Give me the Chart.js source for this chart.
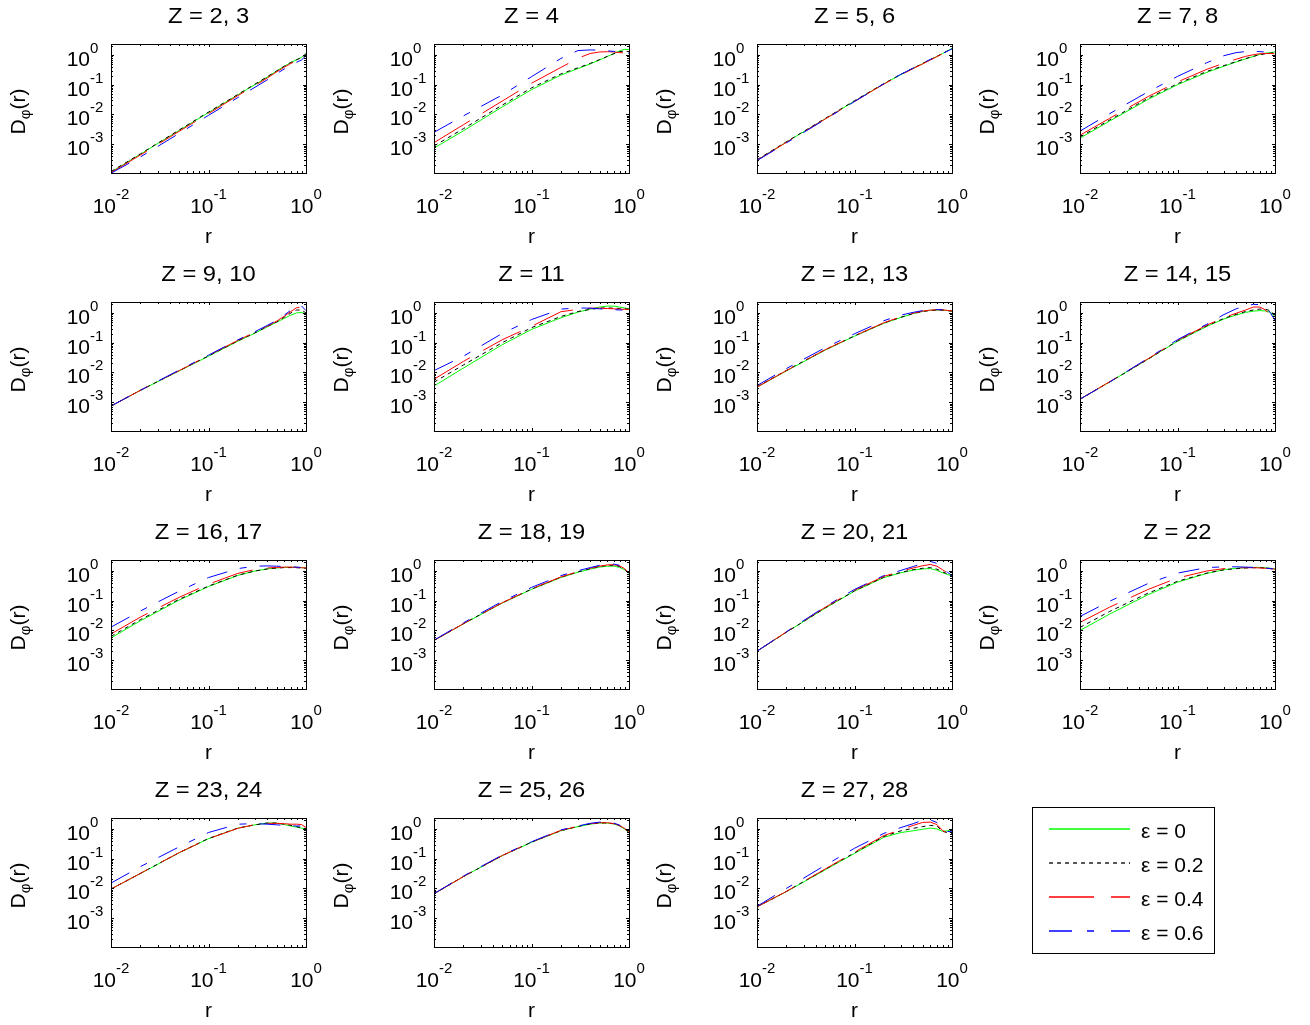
<!DOCTYPE html>
<html>
<head>
<meta charset="utf-8">
<script src="https://cdn.jsdelivr.net/npm/chart.js@4.4.1/dist/chart.umd.min.js"></script>
<style>
html, body { margin: 0; padding: 0; background: #fff; overflow: hidden; }
body { width: 1310px; height: 1025px; position: relative; font-family: "Liberation Sans", Arial, sans-serif; }
#plots canvas { position: absolute; }
#legend { position: absolute; left: 1032px; top: 807px; width: 183px; height: 147px; box-sizing: border-box; border: 1px solid #000; background: #fff; }
#legend canvas { position: absolute; left: 0; top: 0; }
#legend span { position: absolute; left: 108px; font-size: 21px; line-height: 21px; white-space: nowrap; color: #000; }
</style>
</head>
<body>
<div id="plots"></div>
<div id="legend">
  <canvas id="legendLines" width="181" height="145"></canvas>
  <span style="top:12px">ε = 0</span>
  <span style="top:46px">ε = 0.2</span>
  <span style="top:80px">ε = 0.4</span>
  <span style="top:114px">ε = 0.6</span>
</div>
<script>
// r grid shared by all panels
var rValues = [0.01, 0.02, 0.05, 0.1, 0.2, 0.3, 0.4, 0.5, 0.6, 0.7, 0.8, 0.9, 1.0];

var titles = ["Z = 2, 3", "Z = 4", "Z = 5, 6", "Z = 7, 8",
              "Z = 9, 10", "Z = 11", "Z = 12, 13", "Z = 14, 15",
              "Z = 16, 17", "Z = 18, 19", "Z = 20, 21", "Z = 22",
              "Z = 23, 24", "Z = 25, 26", "Z = 27, 28"];

// D_phi(r), one row per panel
var eps0 = [
  [1.15e-4, 4.6e-4, 2.9e-3, 0.0115, 0.046, 0.10, 0.18, 0.29, 0.42, 0.56, 0.69, 0.83, 1.12],
  [7.4e-4, 2.8e-3, 0.0178, 0.068, 0.21, 0.35, 0.5, 0.68, 0.89, 1.12, 1.38, 1.55, 1.51],
  [2.9e-4, 1.17e-3, 7.1e-3, 0.028, 0.107, 0.22, 0.355, 0.51, 0.69, 0.89, 1.12, 1.38, 1.66],
  [1.6e-3, 5.9e-3, 0.032, 0.1, 0.26, 0.42, 0.58, 0.74, 0.89, 1.05, 1.15, 1.2, 1.26],
  [7.4e-4, 2.5e-3, 0.0112, 0.035, 0.112, 0.21, 0.34, 0.49, 0.66, 0.85, 1.0, 1.05, 0.93],
  [3.5e-3, 0.014, 0.085, 0.28, 0.69, 1.07, 1.35, 1.58, 1.7, 1.7, 1.58, 1.48, 1.38],
  [3.2e-3, 0.0112, 0.056, 0.166, 0.45, 0.71, 0.95, 1.12, 1.23, 1.26, 1.26, 1.2, 1.15],
  [1.26e-3, 4.7e-3, 0.028, 0.112, 0.355, 0.63, 0.85, 1.05, 1.15, 1.2, 1.17, 1.05, 0.76],
  [5.6e-3, 0.021, 0.105, 0.3, 0.71, 1.0, 1.17, 1.26, 1.32, 1.32, 1.32, 1.29, 1.26],
  [4.6e-3, 0.0166, 0.083, 0.24, 0.6, 0.91, 1.15, 1.35, 1.45, 1.45, 1.32, 1.1, 0.83],
  [2.0e-3, 8.7e-3, 0.056, 0.21, 0.6, 0.87, 1.07, 1.17, 1.2, 1.05, 0.87, 0.76, 0.68],
  [0.01, 0.035, 0.16, 0.42, 0.83, 1.1, 1.23, 1.29, 1.32, 1.32, 1.29, 1.23, 1.17],
  [9.5e-3, 0.0316, 0.158, 0.47, 1.07, 1.38, 1.58, 1.58, 1.41, 1.26, 1.15, 1.07, 1.0],
  [6.6e-3, 0.025, 0.126, 0.355, 0.87, 1.2, 1.45, 1.58, 1.58, 1.48, 1.26, 1.0, 0.76],
  [2.4e-3, 7.8e-3, 0.042, 0.15, 0.525, 0.76, 0.87, 0.98, 1.07, 1.0, 0.83, 0.87, 0.95]
];
var eps02 = [
  [1.2e-4, 4.7e-4, 3.0e-3, 0.012, 0.047, 0.105, 0.185, 0.29, 0.42, 0.56, 0.69, 0.82, 1.1],
  [8.7e-4, 3.3e-3, 0.0205, 0.078, 0.23, 0.37, 0.52, 0.7, 0.9, 1.1, 1.3, 1.35, 1.3],
  [3.0e-4, 1.2e-3, 7.3e-3, 0.029, 0.109, 0.225, 0.36, 0.52, 0.7, 0.9, 1.12, 1.38, 1.64],
  [1.74e-3, 6.4e-3, 0.035, 0.108, 0.28, 0.44, 0.6, 0.76, 0.9, 1.02, 1.1, 1.15, 1.2],
  [7.4e-4, 2.5e-3, 0.0115, 0.036, 0.115, 0.215, 0.35, 0.5, 0.72, 1.0, 1.26, 1.26, 1.0],
  [4.7e-3, 0.0178, 0.1, 0.32, 0.76, 1.12, 1.32, 1.45, 1.48, 1.45, 1.41, 1.38, 1.35],
  [3.3e-3, 0.0117, 0.058, 0.17, 0.46, 0.72, 0.96, 1.12, 1.22, 1.25, 1.25, 1.2, 1.15],
  [1.26e-3, 4.7e-3, 0.028, 0.115, 0.37, 0.66, 0.9, 1.12, 1.26, 1.35, 1.32, 1.2, 0.85],
  [6.3e-3, 0.023, 0.112, 0.31, 0.72, 1.0, 1.17, 1.26, 1.3, 1.3, 1.29, 1.26, 1.23],
  [4.6e-3, 0.0168, 0.085, 0.245, 0.62, 0.93, 1.2, 1.41, 1.55, 1.55, 1.41, 1.15, 0.85],
  [2.0e-3, 8.7e-3, 0.057, 0.215, 0.62, 0.9, 1.1, 1.23, 1.3, 1.15, 0.93, 0.8, 0.68],
  [0.0126, 0.043, 0.18, 0.45, 0.85, 1.1, 1.2, 1.26, 1.29, 1.29, 1.26, 1.2, 1.15],
  [9.5e-3, 0.032, 0.16, 0.48, 1.07, 1.38, 1.58, 1.58, 1.45, 1.32, 1.2, 1.1, 1.02],
  [6.6e-3, 0.025, 0.126, 0.36, 0.88, 1.22, 1.48, 1.6, 1.6, 1.5, 1.29, 1.02, 0.78],
  [2.4e-3, 7.9e-3, 0.044, 0.158, 0.56, 0.87, 1.05, 1.2, 1.32, 1.26, 0.83, 0.76, 0.71]
];
var eps04 = [
  [1.1e-4, 4.3e-4, 2.7e-3, 0.0107, 0.043, 0.094, 0.167, 0.27, 0.39, 0.52, 0.64, 0.77, 1.0],
  [1.12e-3, 4.5e-3, 0.028, 0.112, 0.38, 0.78, 1.12, 1.26, 1.29, 1.26, 1.2, 1.17, 1.15],
  [2.85e-4, 1.15e-3, 7.0e-3, 0.0275, 0.105, 0.215, 0.35, 0.5, 0.68, 0.88, 1.1, 1.35, 1.6],
  [2.0e-3, 7.3e-3, 0.04, 0.124, 0.33, 0.53, 0.72, 0.9, 1.02, 1.1, 1.12, 1.12, 1.1],
  [7.4e-4, 2.5e-3, 0.0115, 0.037, 0.12, 0.225, 0.36, 0.53, 0.78, 1.12, 1.5, 1.55, 1.1],
  [5.9e-3, 0.0234, 0.125, 0.355, 1.1, 1.32, 1.45, 1.45, 1.41, 1.38, 1.35, 1.32, 1.32],
  [3.2e-3, 0.0115, 0.058, 0.17, 0.47, 0.75, 0.98, 1.15, 1.25, 1.28, 1.27, 1.22, 1.17],
  [1.26e-3, 4.8e-3, 0.029, 0.12, 0.39, 0.7, 0.98, 1.26, 1.58, 1.58, 1.26, 0.8, 0.5],
  [7.6e-3, 0.028, 0.13, 0.36, 0.83, 1.12, 1.26, 1.32, 1.35, 1.35, 1.32, 1.29, 1.26],
  [4.6e-3, 0.0168, 0.085, 0.25, 0.63, 0.95, 1.23, 1.45, 1.6, 1.62, 1.48, 1.2, 0.85],
  [2.0e-3, 8.9e-3, 0.06, 0.225, 0.66, 0.98, 1.26, 1.5, 1.66, 1.45, 1.1, 0.85, 0.68],
  [0.0186, 0.06, 0.24, 0.58, 1.0, 1.2, 1.26, 1.29, 1.29, 1.26, 1.23, 1.2, 1.15],
  [9.5e-3, 0.032, 0.16, 0.47, 1.05, 1.41, 1.55, 1.55, 1.5, 1.45, 1.45, 1.41, 1.12],
  [6.6e-3, 0.025, 0.128, 0.36, 0.9, 1.23, 1.5, 1.62, 1.62, 1.52, 1.3, 1.05, 0.8],
  [2.4e-3, 7.9e-3, 0.045, 0.166, 0.6, 0.95, 1.32, 1.66, 1.7, 1.41, 0.89, 0.72, 0.63]
];
var eps06 = [
  [1.05e-4, 3.7e-4, 2.3e-3, 0.0093, 0.037, 0.082, 0.145, 0.235, 0.34, 0.46, 0.57, 0.68, 0.95],
  [2.5e-3, 8.9e-3, 0.045, 0.186, 0.76, 1.41, 1.48, 1.45, 1.38, 1.32, 1.23, 1.17, 1.15],
  [2.8e-4, 1.1e-3, 6.8e-3, 0.027, 0.108, 0.225, 0.365, 0.53, 0.71, 0.9, 1.12, 1.35, 1.6],
  [2.75e-3, 0.0105, 0.058, 0.19, 0.55, 0.95, 1.2, 1.3, 1.32, 1.3, 1.25, 1.2, 1.18],
  [7.4e-4, 2.5e-3, 0.012, 0.038, 0.125, 0.235, 0.38, 0.56, 0.85, 1.25, 1.7, 1.72, 1.2],
  [0.0115, 0.035, 0.204, 0.6, 1.35, 1.48, 1.45, 1.38, 1.32, 1.29, 1.26, 1.26, 1.26],
  [3.6e-3, 0.0135, 0.068, 0.2, 0.55, 0.85, 1.05, 1.2, 1.28, 1.3, 1.28, 1.22, 1.17],
  [1.26e-3, 4.7e-3, 0.03, 0.126, 0.42, 0.89, 1.38, 1.74, 1.95, 1.9, 1.58, 1.0, 0.56],
  [0.0129, 0.045, 0.21, 0.6, 1.2, 1.45, 1.48, 1.45, 1.41, 1.38, 1.35, 1.32, 1.26],
  [4.7e-3, 0.018, 0.095, 0.28, 0.7, 1.02, 1.3, 1.55, 1.7, 1.7, 1.55, 1.23, 0.87],
  [2.0e-3, 9.0e-3, 0.063, 0.24, 0.7, 1.05, 1.41, 1.8, 2.1, 1.8, 1.26, 0.9, 0.7],
  [0.0295, 0.095, 0.38, 0.85, 1.3, 1.38, 1.38, 1.35, 1.32, 1.29, 1.26, 1.2, 1.15],
  [0.0151, 0.054, 0.25, 0.76, 1.45, 1.51, 1.45, 1.38, 1.32, 1.29, 1.26, 1.26, 1.26],
  [6.7e-3, 0.026, 0.132, 0.37, 0.93, 1.26, 1.55, 1.7, 1.7, 1.58, 1.35, 1.07, 0.8],
  [2.5e-3, 0.01, 0.06, 0.224, 0.71, 1.12, 1.51, 1.95, 2.0, 1.66, 1.0, 0.83, 0.8]
];

var xTicks = [0.01, 0.1, 1];
var xTickExp = ["-2", "-1", "0"];
var yTicks = [1, 0.1, 0.01, 0.001];
var yTickExp = ["0", "-1", "-2", "-3"];

var seriesNames = ["ε = 0", "ε = 0.2", "ε = 0.4", "ε = 0.6"];
var seriesColors = ["#00ff00", "#000000", "#ff0000", "#0000ff"];
var seriesDash = [[], [4, 4], [42, 15], [21, 13, 7, 13]];

var yMin = 1.07e-4, yMax = 2.34;
var boxLefts = [111, 434, 757, 1080];
var boxTops = [44, 302, 560, 818];
var FONT = '"Liberation Sans", Arial, sans-serif';

// box, inward ticks, power-of-ten labels, titles
var axesDecor = {
  id: 'axesDecor',
  afterDraw: function(chart, args, opts) {
    var ctx = chart.ctx, a = chart.chartArea;
    var xs = chart.scales.x, ys = chart.scales.y;
    var L = Math.round(a.left), T = Math.round(a.top), R = Math.round(a.right), B = Math.round(a.bottom);
    ctx.save();
    ctx.strokeStyle = '#000';
    ctx.lineWidth = 1;
    ctx.setLineDash([]);
    ctx.strokeRect(L + 0.5, T + 0.5, R - L, B - T);

    ctx.beginPath();
    for (var n = -2; n <= 0; n++) {
      for (var k = 1; k <= 9; k++) {
        var v = k * Math.pow(10, n);
        if (v < 0.0099 || v > 1.001) continue;
        var px = Math.round(xs.getPixelForValue(v)) + 0.5;
        var len = k == 1 ? 3 : 2;
        ctx.moveTo(px, B); ctx.lineTo(px, B - len);
        ctx.moveTo(px, T); ctx.lineTo(px, T + len);
      }
    }
    for (var n = -4; n <= 0; n++) {
      for (var k = 1; k <= 9; k++) {
        var v = k * Math.pow(10, n);
        if (v < yMin || v > yMax) continue;
        var py = Math.round(ys.getPixelForValue(v)) + 0.5;
        var len = k == 1 ? 3 : 2;
        ctx.moveTo(L, py); ctx.lineTo(L + len, py);
        ctx.moveTo(R, py); ctx.lineTo(R - len, py);
      }
    }
    ctx.stroke();

    ctx.fillStyle = '#000';
    ctx.textBaseline = 'alphabetic';
    // x tick labels
    for (var i = 0; i < xTicks.length; i++) {
      var px = xs.getPixelForValue(xTicks[i]);
      ctx.font = '21px ' + FONT;
      var wb = ctx.measureText('10').width;
      ctx.font = '15px ' + FONT;
      var we = ctx.measureText(xTickExp[i]).width;
      var x0 = px - (wb + we) / 2;
      ctx.textAlign = 'left';
      ctx.font = '21px ' + FONT;
      ctx.fillText('10', x0, B + 40);
      ctx.font = '15px ' + FONT;
      ctx.fillText(xTickExp[i], x0 + wb, B + 26);
    }
    // y tick labels
    for (var i = 0; i < yTicks.length; i++) {
      var py = ys.getPixelForValue(yTicks[i]);
      ctx.textAlign = 'right';
      ctx.font = '21px ' + FONT;
      ctx.fillText('10', L - 21, py + 11);
      ctx.textAlign = 'left';
      ctx.font = '15px ' + FONT;
      ctx.fillText(yTickExp[i], L - 21, py - 2);
    }
    // title, slightly widened like the original
    ctx.save();
    ctx.textAlign = 'center';
    ctx.font = '22px ' + FONT;
    ctx.translate((L + R) / 2, T - 21);
    ctx.scale(1.08, 1);
    ctx.fillText(opts.title, 0, 0);
    ctx.restore();
    // x label
    ctx.textAlign = 'center';
    ctx.font = '21px ' + FONT;
    ctx.fillText('r', (L + R) / 2, B + 70);
    // y label D_phi(r), rotated
    ctx.translate(L - 86, (T + B) / 2 + 3);
    ctx.rotate(-Math.PI / 2);
    ctx.textAlign = 'left';
    ctx.font = '21px ' + FONT;
    var wD = ctx.measureText('D').width, wR = ctx.measureText('(r)').width;
    ctx.font = '15px ' + FONT;
    var wP = ctx.measureText('φ').width;
    var sx = -(wD + wP + wR) / 2;
    ctx.font = '21px ' + FONT;
    ctx.fillText('D', sx, 0);
    ctx.font = '15px ' + FONT;
    ctx.fillText('φ', sx + wD, 5);
    ctx.font = '21px ' + FONT;
    ctx.fillText('(r)', sx + wD + wP, 0);
    ctx.restore();
  }
};

var plotsDiv = document.getElementById('plots');
for (var i = 0; i < titles.length; i++) {
  var col = i % 4, row = Math.floor(i / 4);
  var cv = document.createElement('canvas');
  cv.width = 323;
  cv.height = 258;
  cv.style.left = (boxLefts[col] - 111) + 'px';
  cv.style.top = (boxTops[row] - 44) + 'px';
  plotsDiv.appendChild(cv);

  var series = [eps0[i], eps02[i], eps04[i], eps06[i]];
  var datasets = [];
  for (var k = 0; k < series.length; k++) {
    var pts = [];
    for (var j = 0; j < rValues.length; j++) {
      pts.push({x: rValues[j], y: series[k][j]});
    }
    datasets.push({
      label: seriesNames[k],
      data: pts,
      borderColor: seriesColors[k],
      borderWidth: 1,
      borderDash: seriesDash[k],
      pointRadius: 0,
      tension: 0,
      fill: false,
      order: 3 - k
    });
  }

  new Chart(cv, {
    type: 'line',
    data: {datasets: datasets},
    options: {
      responsive: false,
      animation: false,
      devicePixelRatio: 1,
      events: [],
      layout: {padding: {left: 111, top: 44, right: 17, bottom: 85}},
      scales: {
        x: {type: 'logarithmic', min: 0.01, max: 1, display: false},
        y: {type: 'logarithmic', min: yMin, max: yMax, display: false}
      },
      plugins: {
        legend: {display: false},
        tooltip: {enabled: false},
        axesDecor: {title: titles[i]}
      }
    },
    plugins: [axesDecor]
  });
}

// legend line samples (on whole pixels so the colour spreads over two rows, as in the original)
var lc = document.getElementById('legendLines').getContext('2d');
var legendY = [21, 55, 89, 123];
for (var k = 0; k < seriesNames.length; k++) {
  lc.beginPath();
  lc.strokeStyle = seriesColors[k];
  lc.lineWidth = 1.3;
  lc.setLineDash(k == 2 ? [45, 17] : k == 3 ? [23, 15, 7, 17] : seriesDash[k]);
  lc.moveTo(16, legendY[k]);
  lc.lineTo(97, legendY[k]);
  lc.stroke();
}
</script>
</body>
</html>
